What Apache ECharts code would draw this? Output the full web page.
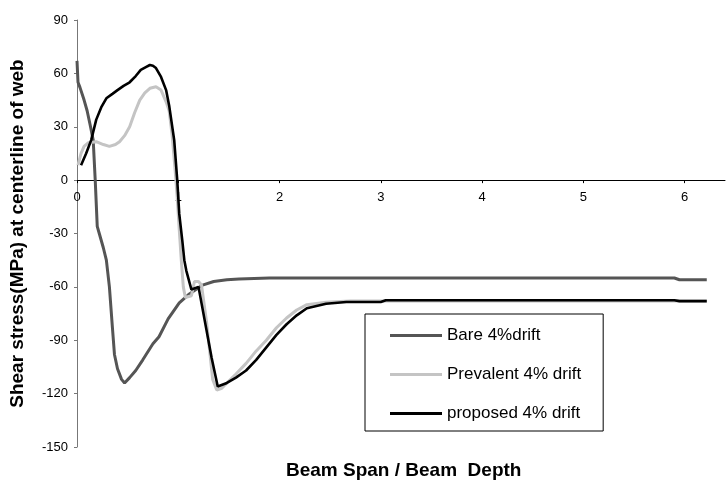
<!DOCTYPE html>
<html>
<head>
<meta charset="utf-8">
<script src="https://cdn.jsdelivr.net/npm/echarts@6/dist/echarts.min.js"></script>
<style>
    html, body { margin: 0; padding: 0; background: #fff; }
    #chart { width: 727px; height: 484px; }
</style>
</head>
<body>
<div id="chart"></div>
<script>
// [span/depth, shear stress MPa]
const bare = [
    [0, 67], [0.01, 55], [0.03, 52], [0.07, 45], [0.1, 39], [0.13, 31], [0.16, 22.5],
    [0.18, 0], [0.2, -26], [0.22, -30], [0.26, -38], [0.29, -45], [0.32, -60],
    [0.35, -83], [0.37, -98], [0.4, -106], [0.44, -112], [0.47, -114], [0.52, -111],
    [0.58, -107], [0.65, -101], [0.75, -92], [0.81, -88], [0.9, -78], [1.01, -69],
    [1.11, -64], [1.24, -59], [1.35, -57], [1.48, -56], [1.6, -55.6], [1.9, -55],
    [3, -55], [5.9, -55], [5.95, -56], [6.22, -56]
]
const prevalent = [
    [0.01, 8.4], [0.04, 15], [0.07, 19], [0.11, 21], [0.19, 21.6], [0.26, 20],
    [0.32, 19], [0.38, 20], [0.42, 21.6], [0.47, 25], [0.52, 30], [0.57, 38],
    [0.62, 45], [0.67, 49], [0.72, 51.6], [0.78, 52.5], [0.83, 50.6], [0.88, 44],
    [0.91, 39], [0.94, 25], [0.97, 5], [0.99, -10], [1.01, -28], [1.03, -45],
    [1.05, -60], [1.07, -66], [1.13, -65], [1.16, -57], [1.2, -57], [1.23, -59],
    [1.28, -80], [1.34, -112], [1.38, -118], [1.43, -117], [1.48, -114], [1.57, -109],
    [1.67, -103], [1.77, -96], [1.87, -90], [1.97, -83], [2.07, -77.5], [2.17, -73],
    [2.27, -70], [2.46, -68.6], [2.7, -68], [3, -68], [6.22, -68]
]
const proposed = [
    [0.04, 8.4], [0.09, 15], [0.14, 22.5], [0.19, 34], [0.24, 41], [0.29, 46],
    [0.35, 48.5], [0.4, 50.6], [0.46, 53], [0.52, 55], [0.58, 58.5], [0.63, 62],
    [0.68, 63.5], [0.72, 64.7], [0.75, 64.3], [0.78, 63], [0.83, 58], [0.88, 50.6],
    [0.91, 42], [0.96, 22.5], [0.99, 0], [1.01, -19], [1.04, -34], [1.06, -45],
    [1.08, -51], [1.13, -61.5], [1.2, -60], [1.33, -100], [1.39, -116], [1.48, -114],
    [1.57, -111], [1.67, -107], [1.77, -101], [1.87, -94], [1.97, -87], [2.07, -81],
    [2.17, -76], [2.27, -72], [2.46, -69.5], [2.66, -68.5], [3.0, -68.5], [3.05, -67.5],
    [5.9, -67.5], [5.95, -68], [6.22, -68]
]
const names = ['Bare 4%drift', 'Prevalent 4% drift', 'proposed 4% drift']
const colors = ['#555555', '#c4c4c4', '#000000']
const widths = [3, 3, 2.6]

const font = "'Liberation Sans', Arial, sans-serif"
const gridTop = 20
const gridBottom = 37
const yMin = -150
const yMax = 90
// distance from bottom of grid up to the y = 0 line
const zeroOffset = (484 - gridTop - gridBottom) * (0 - yMin) / (yMax - yMin)

const chart = echarts.init(document.getElementById('chart'))

chart.setOption({
    animation: false,
    backgroundColor: '#fff',
    textStyle: { fontFamily: font },
    grid: {
        left: 77,
        right: 2,
        top: gridTop,
        bottom: gridBottom
    },
    title: {
        text: 'Beam Span / Beam  Depth',
        left: 286,
        top: 461,
        padding: 0,
        textStyle: {
            fontFamily: font,
            fontSize: 19,
            fontWeight: 'bold',
            color: '#000'
        }
    },
    legend: {
        orient: 'vertical',
        left: 365,
        top: 314,
        padding: [13, 22, 9, 25],
        itemWidth: 52,
        itemHeight: 14,
        itemGap: 22,
        icon: 'path://M0,0H52V3H0Z',
        symbolKeepAspect: true,
        backgroundColor: '#fff',
        borderColor: '#000',
        borderWidth: 1,
        borderRadius: 0,
        data: names,
        textStyle: {
            fontFamily: font,
            fontSize: 17,
            color: '#000'
        }
    },
    xAxis: {
        type: 'value',
        min: 0,
        max: 6.4,
        interval: 1,
        position: 'bottom',
        offset: -zeroOffset,
        splitLine: { show: false },
        axisLine: {
            onZero: false,
            lineStyle: { color: '#000', width: 1 }
        },
        axisTick: {
            show: true,
            length: 3,
            lineStyle: { color: '#000' }
        },
        axisLabel: {
            margin: 11,
            fontSize: 13,
            color: '#000',
            fontFamily: font,
            showMaxLabel: false
        }
    },
    yAxis: {
        type: 'value',
        min: yMin,
        max: yMax,
        interval: 30,
        name: 'Shear stress(MPa) at centerline of web',
        nameLocation: 'middle',
        nameGap: 50,
        nameTextStyle: {
            fontFamily: font,
            fontSize: 19,
            fontWeight: 'bold',
            color: '#000'
        },
        splitLine: { show: false },
        axisLine: {
            show: true,
            onZero: false,
            lineStyle: { color: '#777', width: 1 }
        },
        axisTick: {
            show: true,
            length: 3,
            lineStyle: { color: '#777' }
        },
        axisLabel: {
            margin: 9,
            fontSize: 13,
            color: '#000',
            fontFamily: font
        }
    },
    series: [bare, prevalent, proposed].map((data, i) => ({
        name: names[i],
        type: 'line',
        data,
        showSymbol: false,
        symbol: 'none',
        smooth: false,
        color: colors[i],
        lineStyle: {
            color: colors[i],
            width: widths[i]
        }
    }))
})
</script>
</body>
</html>
